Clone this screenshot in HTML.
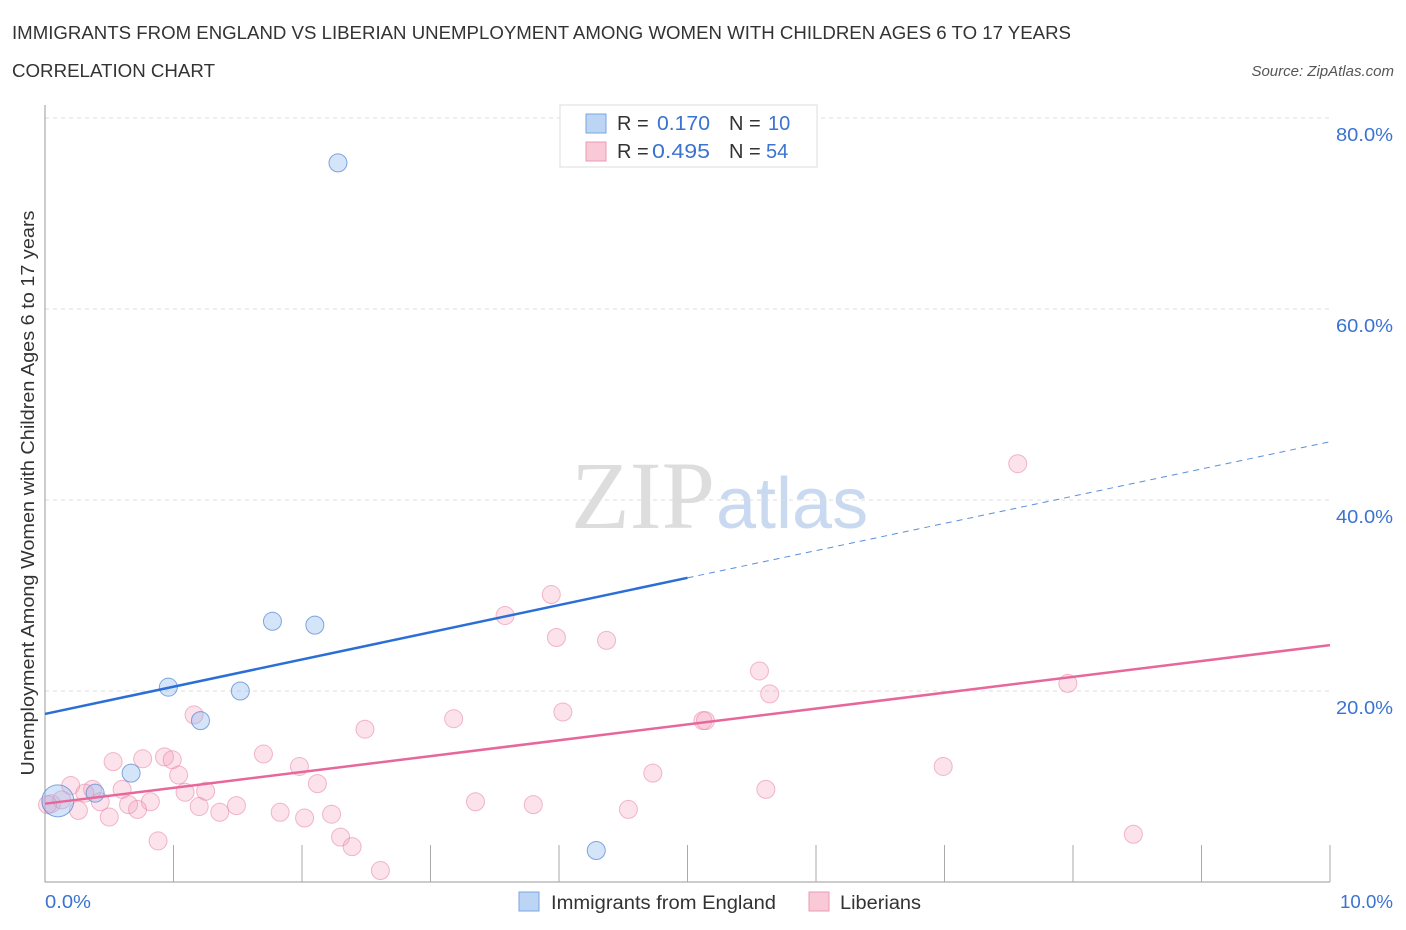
<!DOCTYPE html>
<html><head><meta charset="utf-8"><style>
body{margin:0;background:#fff;font-family:"Liberation Sans",sans-serif;}
svg{display:block}
</style></head><body>
<svg id="chart" width="1406" height="930">
<text x="12" y="39" font-size="18" fill="#333" textLength="1059" lengthAdjust="spacingAndGlyphs">IMMIGRANTS FROM ENGLAND VS LIBERIAN UNEMPLOYMENT AMONG WOMEN WITH CHILDREN AGES 6 TO 17 YEARS</text>
<text x="12" y="77" font-size="18" fill="#333" textLength="203" lengthAdjust="spacingAndGlyphs">CORRELATION CHART</text>
<text x="1394" y="76" font-size="15" fill="#555" font-style="italic" text-anchor="end">Source: ZipAtlas.com</text>
<text x="715" y="528" font-size="96" fill="#ddd" text-anchor="end" font-family="Liberation Serif,serif">ZIP</text>
<text x="716" y="528" font-size="72" fill="#c9daf0">atlas</text>
<g id="grid"></g>
<g id="axes"></g>
<g id="marks"></g>
<text transform="translate(34,493) rotate(-90)" font-size="18" fill="#333" text-anchor="middle" textLength="565" lengthAdjust="spacingAndGlyphs">Unemployment Among Women with Children Ages 6 to 17 years</text>
<g>
<rect x="560" y="105" width="257" height="62" fill="#fff" stroke="#ddd"/>
<rect x="586" y="114" width="20" height="19" fill="#bcd5f5" stroke="#7aa5e0"/>
<rect x="586" y="142" width="20" height="19" fill="#f9c9d8" stroke="#ec9ab4"/>
<text x="617" y="130" font-size="20" fill="#333">R = </text>
<text x="657" y="130" font-size="20" fill="#3b73d1" textLength="53" lengthAdjust="spacingAndGlyphs">0.170</text>
<text x="729" y="130" font-size="20" fill="#333">N = </text>
<text x="768" y="130" font-size="20" fill="#3b73d1">10</text>
<text x="617" y="158" font-size="20" fill="#333">R = </text>
<text x="652" y="158" font-size="20" fill="#3b73d1" textLength="58" lengthAdjust="spacingAndGlyphs">0.495</text>
<text x="729" y="158" font-size="20" fill="#333">N = </text>
<text x="766" y="158" font-size="20" fill="#3b73d1">54</text>
</g>
<g>
<rect x="519" y="892" width="20" height="19" fill="#bcd5f5" stroke="#7aa5e0"/>
<text x="551" y="909" font-size="19" fill="#333" textLength="225" lengthAdjust="spacingAndGlyphs">Immigrants from England</text>
<rect x="809" y="892" width="20" height="19" fill="#f9c9d8" stroke="#ec9ab4"/>
<text x="840" y="909" font-size="19" fill="#333" textLength="81" lengthAdjust="spacingAndGlyphs">Liberians</text>
</g>
</svg>
<script>
const yTicks=[20,40,60,80];
const yTickLabels=["20.0%","40.0%","60.0%","80.0%"];
const xTickLabels=["0.0%","10.0%"];
const englandX=[2.28,1.77,2.10,0.96,1.52,1.21,0.67,0.39,0.10,4.29];
const englandY=[75.3,27.3,26.9,20.4,20.0,16.9,11.4,9.3,8.5,3.3];
const englandR=[9,9,9,9,9,9,9,9,16,9];
const liberiansX=[7.57,3.94,3.58,3.98,4.37,5.56,5.64,7.96,1.16,4.03,2.49,3.18,5.12,5.14,1.70,0.76,0.53,0.93,0.99,1.98,6.99,4.73,1.04,0.20,0.37,0.60,1.25,1.09,2.12,5.61,0.05,0.13,0.43,0.65,0.82,3.35,3.80,1.49,1.20,0.72,0.26,1.83,1.36,2.23,4.54,2.02,0.50,8.47,2.30,0.88,2.39,2.61,0.02,0.31];
const liberiansY=[43.8,30.1,27.9,25.6,25.3,22.1,19.7,20.8,17.5,17.8,16.0,17.1,16.9,16.9,13.4,12.9,12.6,13.1,12.8,12.1,12.1,11.4,11.2,10.1,9.7,9.7,9.5,9.4,10.3,9.7,8.2,8.6,8.4,8.1,8.4,8.4,8.1,8.0,7.9,7.6,7.5,7.3,7.3,7.1,7.6,6.7,6.8,5.0,4.7,4.3,3.7,1.2,8.1,9.3];
const englandTrend=[17.6,2.85];   // intercept, slope
const liberiansTrend=[8.2,1.66];
const NS="http://www.w3.org/2000/svg";
const sx=v=>45+v*128.5, sy=v=>882-v*9.55;
function mk(tag,attrs,parent){const e=document.createElementNS(NS,tag);for(const k in attrs)e.setAttribute(k,attrs[k]);parent.appendChild(e);return e;}
const grid=document.getElementById('grid'),axes=document.getElementById('axes'),marks=document.getElementById('marks');
yTicks.forEach((t,i)=>{
 const l=mk('line',{x1:45,x2:1330,y1:sy(t),y2:sy(t),stroke:'#ddd','stroke-dasharray':'4,4'},grid);
 
 
 const tx=mk('text',{x:1336,y:sy(t)+23,'font-size':18,fill:'#3b73d1',textLength:57,lengthAdjust:'spacingAndGlyphs'},grid);
 tx.textContent=yTickLabels[i];
 
 
});
const ax=mk('path',{d:'M45 105V882H1330',stroke:'#999',fill:'none'},axes);


for(let i=1;i<=10;i++){
 const t=mk('line',{x1:sx(i),x2:sx(i),y1:845,y2:882,stroke:'#aaa'},axes);
 
 
}
[[0,45,46],[10,1340,53]].forEach((d,i)=>{
 const t=mk('text',{x:d[1],y:908,'font-size':18,fill:'#3b73d1',textLength:d[2],lengthAdjust:'spacingAndGlyphs'},axes);
 t.textContent=xTickLabels[i];
 
 
});
function trend(tr,x0,x1,color,dash){
 const l=mk('line',{x1:sx(x0),y1:sy(tr[0]+tr[1]*x0),x2:sx(x1),y2:sy(tr[0]+tr[1]*x1),stroke:color,'stroke-width':dash?1:2.5},marks);
 if(dash)l.setAttribute('stroke-dasharray','6,5');
 return l;
}
liberiansX.forEach((x,i)=>{
 const c=mk('circle',{cx:sx(x),cy:sy(liberiansY[i]),r:9,fill:'rgba(245,160,190,0.3)',stroke:'rgba(230,130,165,0.55)'},marks);
 
 
});
englandX.forEach((x,i)=>{
 const c=mk('circle',{cx:sx(x),cy:sy(englandY[i]),r:englandR[i],fill:'rgba(150,190,240,0.4)',stroke:'rgba(80,130,210,0.7)'},marks);
 
 
});
let t1=trend(englandTrend,0,5,'#2b6fd6',false);


let t2=trend(englandTrend,5,10,'#5a8fdc',true);


let t3=trend(liberiansTrend,0,10,'#e8679a',false);


</script>
</body></html>
